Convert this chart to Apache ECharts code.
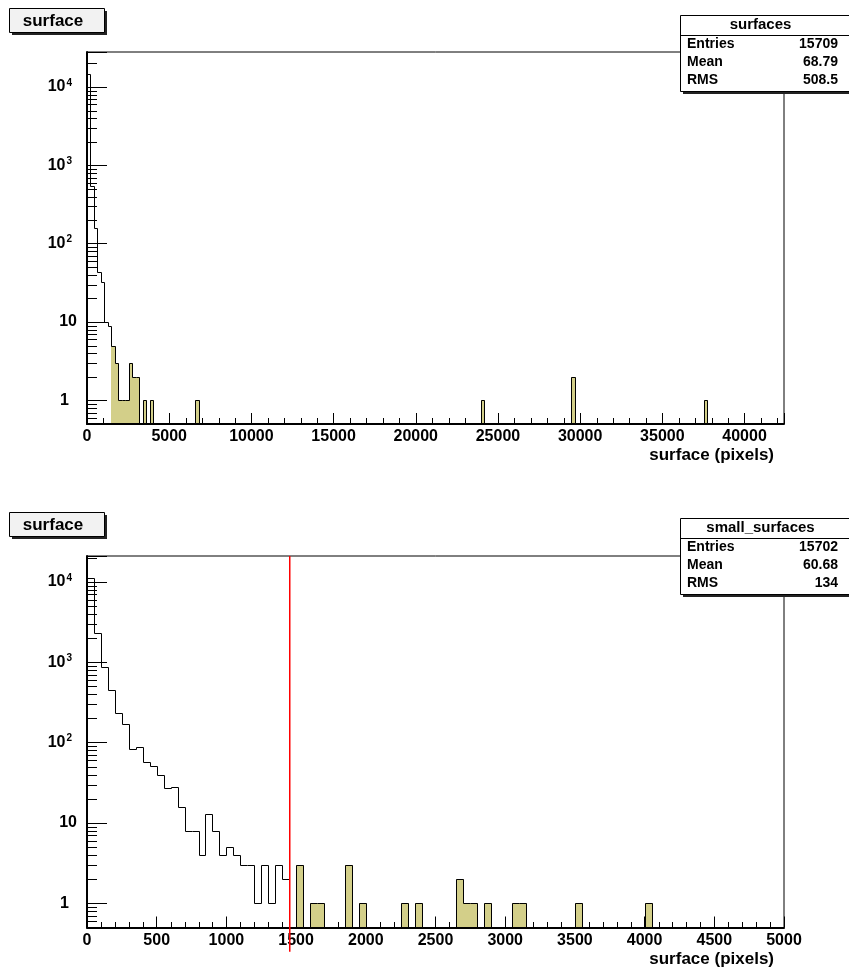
<!DOCTYPE html>
<html><head><meta charset="utf-8">
<script src="https://cdn.jsdelivr.net/npm/echarts@6/dist/echarts.min.js"></script>
<style>html,body{margin:0;padding:0;background:#fff}#c{width:849px;height:972px}</style>
</head><body><div id="c"></div>
<script>
// ---------------- data ----------------
const histTitle = 'surface';
const xTitle = 'surface (pixels)';

// top histogram "surfaces": 200 bins of 212 px from 0 to 42400
const topStatsName = 'surfaces';
const topStatsLabels = ['Entries', 'Mean', 'RMS'];
const topStatsValues = ['15709', '68.79', '508.5'];
const topXMax = 42400;
const topBinWidth = 212;
const topXStep = 5000, topXMinorStep = 1000;
const topYMin = 0.5, topYMax = 28000;
const topBins   = [0, 1, 2, 3, 4, 5, 6, 7, 8, 9, 10, 11, 12, 13, 14, 16, 18, 31, 113, 139, 177];
const topCounts = [14880, 545, 160, 44, 32, 10, 9, 5, 3, 1, 1, 1, 3, 2, 2, 1, 1, 1, 1, 2, 1];

// bottom histogram "small_surfaces": 100 bins of 50 px from 0 to 5000
const botStatsName = 'small_surfaces';
const botStatsLabels = ['Entries', 'Mean', 'RMS'];
const botStatsValues = ['15702', '60.68', '134'];
const botXMax = 5000;
const botBinWidth = 50;
const botXStep = 500, botXMinorStep = 100;
const botYMin = 0.5, botYMax = 21000;
const botBins   = [0, 1, 2, 3, 4, 5, 6, 7, 8, 9, 10, 11, 12, 13, 14, 15, 16, 17, 18, 19,
                   20, 21, 22, 23, 24, 25, 26, 27, 28, 30, 32, 33, 37, 39, 45, 47,
                   53, 54, 55, 57, 61, 62, 70, 80];
const botCounts = [11220, 2280, 877, 450, 231, 168, 83, 87, 57, 51, 39, 27, 28, 16, 8, 8, 4, 13, 8, 4,
                   5, 4, 3, 3, 1, 3, 1, 3, 2, 3, 1, 1, 3, 1, 1, 1,
                   2, 1, 1, 1, 1, 1, 1, 1];

const fillCut = 1500;        // bins above this value are drawn filled
const cutLine = 1450;        // red vertical cut line (bottom plot)
const cutLineBottom = 0.25;  // lower end of the red line (data units)

// ---------------- helpers ----------------
const FONT = "'Liberation Sans', Arial, Helvetica, sans-serif";
const FILL = '#d3cf89';
const RED = '#ff0000';
const px = v => Math.round(v) + 0.5;

function dense(bins, counts, n) {
  const c = new Array(n).fill(0);
  bins.forEach((b, i) => { c[b] = counts[i]; });
  return c;
}
function stepData(c, w) {
  const d = [];
  for (let i = 0; i <= c.length; i++) {
    const cur = i < c.length ? c[i] : 0;
    const prev = i > 0 ? c[i - 1] : 0;
    if (cur > 0 || prev > 0) d.push([i * w, (i + 1) * w, cur, prev]);
  }
  return d;
}
function fillData(c, w) {
  const d = [];
  c.forEach((v, i) => { if (v > 0 && (i + 1) * w > fillCut) d.push([i * w, (i + 1) * w, v]); });
  return d;
}
function makeStep(yMin) {
  return function (params, api) {
    const lo = api.value(0), hi = api.value(1), c = api.value(2), p = api.value(3);
    const yc = api.coord([lo, c > 0 ? c : yMin])[1];
    const yp = api.coord([lo, p > 0 ? p : yMin])[1];
    const x0 = px(api.coord([lo, yMin])[0]);
    const x1 = px(api.coord([hi, yMin])[0]);
    const pts = [[x0, px(yp)], [x0, px(yc)]];
    if (c > 0) pts.push([x1, px(yc)]);
    return { type: 'polyline', shape: { points: pts }, style: { stroke: '#000', lineWidth: 1, fill: null } };
  };
}
function makeFill(yMin) {
  return function (params, api) {
    const lo = api.value(0), hi = api.value(1), c = api.value(2);
    const a = api.coord([lo, c]);
    const b = api.coord([hi, yMin]);
    const x0 = Math.round(a[0]), x1 = Math.round(b[0]) + 1, y0 = Math.round(a[1]), y1 = Math.round(b[1]) - 1;
    return { type: 'rect', shape: { x: x0, y: y0, width: x1 - x0, height: y1 - y0 }, style: { fill: FILL, stroke: null } };
  };
}
function yMinorValues(yMin, yMax) {
  const out = [];
  for (let e = -1; e <= 5; e++) for (let m = 2; m <= 9; m++) {
    const v = m * Math.pow(10, e);
    if (v > yMin && v < yMax) out.push([0, v]);
  }
  return out;
}
function xMinorValues(max, step, major, yMin) {
  const out = [];
  for (let v = step; v <= max; v += step) if (v % major !== 0) out.push([v, yMin]);
  return out;
}
function yMinorRender(params, api) {
  const p = api.coord([api.value(0), api.value(1)]);
  const x = Math.round(p[0]), y = px(p[1]);
  return { type: 'line', shape: { x1: x, y1: y, x2: x + 10, y2: y }, style: { stroke: '#000', lineWidth: 1 } };
}
function xMinorRender(params, api) {
  const p = api.coord([api.value(0), api.value(1)]);
  const x = px(p[0]), y = Math.round(p[1]);
  return { type: 'line', shape: { x1: x, y1: y, x2: x, y2: y - 6 }, style: { stroke: '#000', lineWidth: 1 } };
}
function yLabel(v) {
  const lg = Math.log10(v);
  const e = Math.round(lg);
  if (Math.abs(lg - e) > 1e-6) return '';
  if (e === 0) return '{one|1}';
  if (e === 1) return '{ten|10}';
  return '{base|10}{sup|' + e + '}';
}
const labelRich = {
  one:  { fontFamily: FONT, fontWeight: 'bold', fontSize: 16, lineHeight: 18, color: '#000', padding: [0, 8, 0, 0] },
  ten:  { fontFamily: FONT, fontWeight: 'bold', fontSize: 16, lineHeight: 18, color: '#000' },
  base: { fontFamily: FONT, fontWeight: 'bold', fontSize: 16, lineHeight: 18, color: '#000' },
  sup:  { fontFamily: FONT, fontWeight: 'bold', fontSize: 10, lineHeight: 12, color: '#000', verticalAlign: 'top', padding: [0, 5, 0, 1] }
};
function xAxisOpt(gi, max, interval) {
  return {
    type: 'value', gridIndex: gi, min: 0, max: max, interval: interval,
    axisLine: { show: true, onZero: false, lineStyle: { color: '#000', width: 2 } },
    axisTick: { show: true, inside: true, length: 11, lineStyle: { color: '#000', width: 1 } },
    axisLabel: { margin: 5, color: '#000', fontFamily: FONT, fontWeight: 'bold', fontSize: 16, lineHeight: 16,
      formatter: v => (Math.abs(v % interval) < 1e-9 ? String(v) : '') },
    splitLine: { show: false }
  };
}
function yAxisOpt(gi, min, max) {
  return {
    type: 'log', logBase: 10, gridIndex: gi, min: min, max: max,
    axisLine: { show: true, onZero: false, lineStyle: { color: '#000', width: 2 } },
    axisTick: { show: true, inside: true, length: 20, lineStyle: { color: '#000', width: 1 } },
    axisLabel: { margin: 10, align: 'right', verticalAlign: 'middle', formatter: yLabel, rich: labelRich },
    splitLine: { show: false }
  };
}
function titleBox(y) {
  return [
    { type: 'rect', z: 100, shape: { x: 12, y: y + 3, width: 95, height: 24 }, style: { fill: '#222' } },
    { type: 'rect', z: 101, shape: { x: 9.5, y: y + 0.5, width: 95, height: 24 }, style: { fill: '#f2f2f2', stroke: '#000', lineWidth: 1 } },
    { type: 'text', z: 102, x: 53, y: y + 13, style: { text: histTitle, fontFamily: FONT, fontWeight: 'bold', fontSize: 17, fill: '#000',
      align: 'center', verticalAlign: 'middle', textAlign: 'center', textVerticalAlign: 'middle' } }
  ];
}
function statsBox(y, name, labels, values) {
  const els = [
    { type: 'rect', z: 100, shape: { x: 683, y: y + 3, width: 180, height: 76 }, style: { fill: '#222' } },
    { type: 'rect', z: 101, shape: { x: 680.5, y: y + 0.5, width: 180, height: 76 }, style: { fill: '#fff', stroke: '#000', lineWidth: 1 } },
    { type: 'line', z: 102, shape: { x1: 680, y1: y + 20.5, x2: 861, y2: y + 20.5 }, style: { stroke: '#000', lineWidth: 1 } },
    { type: 'text', z: 102, x: 760.5, y: y + 10, style: { text: name, fontFamily: FONT, fontWeight: 'bold', fontSize: 15, fill: '#000',
      align: 'center', verticalAlign: 'middle', textAlign: 'center', textVerticalAlign: 'middle' } }
  ];
  labels.forEach((lab, i) => {
    const ry = y + 29 + 18 * i;
    els.push({ type: 'text', z: 102, x: 687, y: ry, style: { text: lab, fontFamily: FONT, fontWeight: 'bold', fontSize: 14, fill: '#000',
      align: 'left', verticalAlign: 'middle', textAlign: 'left', textVerticalAlign: 'middle' } });
    els.push({ type: 'text', z: 102, x: 838, y: ry, style: { text: values[i], fontFamily: FONT, fontWeight: 'bold', fontSize: 14, fill: '#000',
      align: 'right', verticalAlign: 'middle', textAlign: 'right', textVerticalAlign: 'middle' } });
  });
  return els;
}
function axisTitle(y) {
  return { type: 'text', z: 102, x: 774, y: y, style: { text: xTitle, fontFamily: FONT, fontWeight: 'bold', fontSize: 17, fill: '#000',
    align: 'right', verticalAlign: 'middle', textAlign: 'right', textVerticalAlign: 'middle' } };
}

// ---------------- build ----------------
const topC = dense(topBins, topCounts, Math.round(topXMax / topBinWidth));
const botC = dense(botBins, botCounts, Math.round(botXMax / botBinWidth));

const chart = echarts.init(document.getElementById('c'), null, { renderer: 'canvas' });
chart.setOption({
  animation: false,
  backgroundColor: '#fff',
  grid: [
    { left: 87, top: 52, width: 697, height: 372, show: true, borderColor: '#000', borderWidth: 1, backgroundColor: 'transparent' },
    { left: 87, top: 556, width: 697, height: 371.5, show: true, borderColor: '#000', borderWidth: 1, backgroundColor: 'transparent' }
  ],
  xAxis: [xAxisOpt(0, topXMax, topXStep), xAxisOpt(1, botXMax, botXStep)],
  yAxis: [yAxisOpt(0, topYMin, topYMax), yAxisOpt(1, botYMin, botYMax)],
  series: [
    { type: 'custom', name: 'ticksY0', xAxisIndex: 0, yAxisIndex: 0, z: 1, silent: true, data: yMinorValues(topYMin, topYMax), encode: { x: 0, y: 1 }, renderItem: yMinorRender },
    { type: 'custom', name: 'ticksX0', xAxisIndex: 0, yAxisIndex: 0, z: 1, silent: true, data: xMinorValues(topXMax, topXMinorStep, topXStep, topYMin), encode: { x: 0, y: 1 }, renderItem: xMinorRender },
    { type: 'custom', name: 'ticksY1', xAxisIndex: 1, yAxisIndex: 1, z: 1, silent: true, data: yMinorValues(botYMin, botYMax), encode: { x: 0, y: 1 }, renderItem: yMinorRender },
    { type: 'custom', name: 'ticksX1', xAxisIndex: 1, yAxisIndex: 1, z: 1, silent: true, data: xMinorValues(botXMax, botXMinorStep, botXStep, botYMin), encode: { x: 0, y: 1 }, renderItem: xMinorRender },

    { type: 'custom', name: 'surfaces fill', xAxisIndex: 0, yAxisIndex: 0, z: 2, silent: true, data: fillData(topC, topBinWidth), encode: { x: [0, 1], y: 2 }, renderItem: makeFill(topYMin) },
    { type: 'custom', name: 'surfaces', xAxisIndex: 0, yAxisIndex: 0, z: 3, silent: true, data: stepData(topC, topBinWidth), encode: { x: [0, 1], y: 2 }, renderItem: makeStep(topYMin) },
    { type: 'custom', name: 'small_surfaces fill', xAxisIndex: 1, yAxisIndex: 1, z: 2, silent: true, data: fillData(botC, botBinWidth), encode: { x: [0, 1], y: 2 }, renderItem: makeFill(botYMin) },
    { type: 'custom', name: 'small_surfaces', xAxisIndex: 1, yAxisIndex: 1, z: 3, silent: true, data: stepData(botC, botBinWidth), encode: { x: [0, 1], y: 2 }, renderItem: makeStep(botYMin) },

    { type: 'custom', name: 'cut', xAxisIndex: 1, yAxisIndex: 1, z: 4, silent: true, clip: false,
      itemStyle: { color: RED, borderColor: RED },
      data: [[cutLine, cutLineBottom, botYMax]], encode: { x: 0, y: [1, 2] },
      renderItem: function (params, api) {
        const a = api.coord([api.value(0), api.value(1)]);
        const b = api.coord([api.value(0), api.value(2)]);
        const x = Math.round(a[0]);
        return { type: 'rect', shape: { x: x, y: b[1], width: 1.5, height: a[1] - b[1] },
                 style: { fill: RED, stroke: null } };
      } }
  ],
  graphic: { elements: [].concat(
    titleBox(8), titleBox(512),
    statsBox(15, topStatsName, topStatsLabels, topStatsValues),
    statsBox(518, botStatsName, botStatsLabels, botStatsValues),
    [axisTitle(455), axisTitle(959)]
  ) }
});
</script>
</body></html>
